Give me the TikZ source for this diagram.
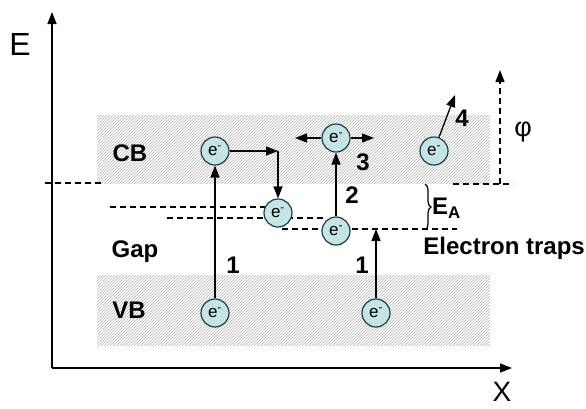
\documentclass[tikz,border=0pt]{standalone}
\usepackage{fontspec}
\setmainfont{Liberation Sans}
\usetikzlibrary{positioning, calc, patterns, arrows.meta, decorations.pathreplacing}
\definecolor{elecfill}{HTML}{C4E4E6}
\definecolor{elecline}{HTML}{1E3E42}

\tikzset{
  elec/.style={circle, draw=elecline, fill=elecfill, line width=1.2pt, minimum size=28pt, inner sep=0pt, font=\fontsize{17}{17}\selectfont},
  lvl/.style={line width=1.2pt, dash pattern=on 6pt off 4pt},
  arr/.style={-{Triangle[length=12pt,width=9pt]}, line width=1.3pt},
  lbl/.style={font=\bfseries\fontsize{24}{28}\selectfont, inner sep=0pt},
  band/.style={pattern=north east lines, pattern color=gray!60},
}

\begin{document}
\begin{tikzpicture}[x=1pt,y=-1pt]
        \useasboundingbox (0,0) rectangle (586,408);
        %bande
        \fill[band] (97,115) rectangle (490,183);
        \fill[band] (97,275) rectangle (490,345);
        %assi
        \coordinate (O) at (52,368);
        \coordinate (Etip) at (52,12);
        \coordinate (Xtip) at (512,368);
        \draw[arr, line width=1.5pt] (O) -- (Etip);
        \draw[arr, line width=1.5pt] (O) -- (Xtip);
        \node[font=\fontsize{32}{32}\selectfont, inner sep=0pt] (Elabel) at (20,44) {E};
        \node[font=\fontsize{28}{28}\selectfont, inner sep=0pt] (Xlabel) at (502,392) {X};
        %livelli tratteggiati
        \draw[lvl] (45,183) -- (103,183);
        \draw[lvl] (453,184) -- (513,184);
        \draw[lvl] (110,207) -- (268,207);
        \draw[lvl] (167,218) -- (325,218);
        \draw[lvl] (282,229) -- (457,229);
        %elettroni
        \node[elec] (cb1) at (215,151) {e\textsuperscript{-}};
        \node[elec] (trap1) at (278,213) {e\textsuperscript{-}};
        \node[elec] (trap2) at (336,231) {e\textsuperscript{-}};
        \node[elec] (cb3) at (336,138) {e\textsuperscript{-}};
        \node[elec] (cb4) at (434,151) {e\textsuperscript{-}};
        \node[elec] (vb1) at (215,313) {e\textsuperscript{-}};
        \node[elec] (vb2) at (376,313) {e\textsuperscript{-}};
        %transizioni
        \coordinate (bend) at (trap1.north |- cb1.east);
        \coordinate (l3) at (295,138);
        \coordinate (r3) at (374,138);
        \coordinate (t4) at (455,95);
        \coordinate (trapA) at (376,229);
        \draw[arr] (vb1.north) -- (cb1.south);
        \draw[arr] (cb1.east) -- (bend);
        \draw[arr] (bend) -- (trap1.north);
        \draw[arr] (trap2.north) -- (cb3.south);
        \draw[arr] (cb3.west) -- (l3);
        \draw[arr] (cb3.east) -- (r3);
        \draw[arr] (cb4.70) -- (t4);
        \draw[arr] (vb2.north) -- (trapA);
        %lavoro di estrazione
        \coordinate (phiA) at (500,184);
        \coordinate (phiB) at (500,70);
        \draw[arr, dash pattern=on 6pt off 4pt] (phiA) -- (phiB);
        \node[font=\fontsize{27}{27}\selectfont, inner sep=0pt] (phi) at (523,132) {φ};
        %energia di attivazione
        \coordinate (braceA) at (425,184);
        \coordinate (braceB) at (425,230);
        \draw[line width=1.2pt, decorate, decoration={brace, amplitude=6pt}] (braceA) -- (braceB);
        \node[lbl, anchor=west] (EA) at (432,208) {E\textsubscript{A}};
        %etichette
        \node[lbl] (CB) at (130,153) {CB};
        \node[lbl] (Gap) at (135,252) {Gap};
        \node[lbl] (VB) at (129,310) {VB};
        \node[lbl, anchor=east] (traps) at (585,248) {Electron traps};
        \node[lbl] (n1a) at (233,265) {1};
        \node[lbl] (n2) at (352,195) {2};
        \node[lbl] (n3) at (363,162) {3};
        \node[lbl] (n4) at (462,118) {4};
        \node[lbl] (n1b) at (362,265) {1};
\end{tikzpicture}
\end{document}
